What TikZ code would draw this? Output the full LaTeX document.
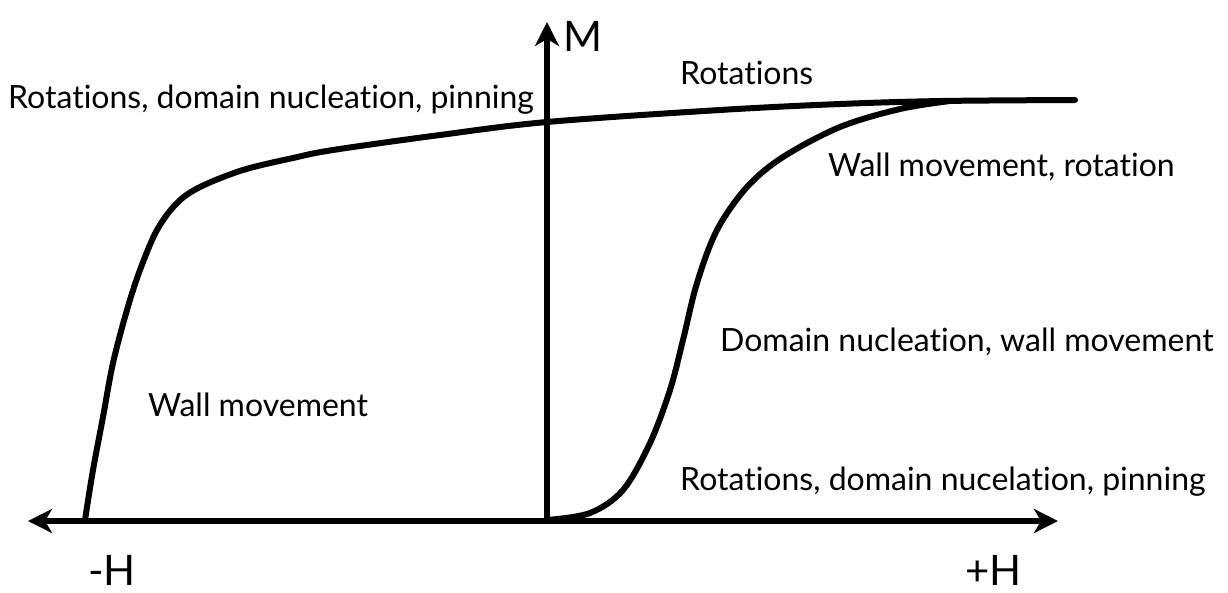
\documentclass[tikz,border=0pt]{standalone}
\usepackage{fontspec}
\setmainfont{Lato}[Ligatures={NoCommon}]
\usetikzlibrary{arrows.meta}
\begin{document}
\begin{tikzpicture}[x=1pt,y=-1pt,
  lbl/.style={font=\fontsize{32}{38}\selectfont, inner sep=0pt, anchor=base west},
  axlbl/.style={font=\fontsize{42}{48}\selectfont, inner sep=0pt, anchor=base west},
  axisline/.style={line width=6pt},
  tip/.style={-{Stealth[length=24pt,width=24pt,inset=7pt]}},
  curve/.style={line width=6pt, line cap=round, line join=round}]
\useasboundingbox[fill=white] (0,0) rectangle (1228,592);
\coordinate (O) at (547,521);
\coordinate (Hl) at (28,521);
\coordinate (Hr) at (1058,521);
\coordinate (Mt) at (547,22);
\draw[axisline,tip] (O) -- (Hl);
\draw[axisline,tip] (O) -- (Hr);
\draw[axisline,tip] (O) -- (Mt);
% upper branch
\draw[curve] plot[smooth, tension=0.55] coordinates {(85,520) (93,470) (103,417) (113,363) (127,310) (140,270) (157,230) (177,203) (200,187) (243,170) (293,158) (333,150) (440,135) (547,122) (720,110) (840,104) (942,101) (1075,100)};
% lower branch
\draw[curve] plot[smooth, tension=0.55] coordinates {(547,520) (590,513) (623,490) (650,443) (670,390) (683,340) (697,283) (717,230) (747,187) (783,157) (840,127) (900,109) (950,101)};
% labels
\node[axlbl] (M) at (563,51) {M};
\node[axlbl] (mH) at (88,585) {-H};
\node[axlbl] (pH) at (965,585) {+H};
\node[lbl] (t1) at (8,108) {Rotations, domain nucleation, pinning};
\node[lbl] (t2) at (680,84) {Rotations};
\node[lbl] (t3) at (828,176) {Wall movement, rotation};
\node[lbl] (t4) at (720,351) {Domain nucleation, wall movement};
\node[lbl] (t5) at (148,416) {Wall movement};
\node[lbl] (t6) at (680,490) {Rotations, domain nucelation, pinning};
\end{tikzpicture}
\end{document}
